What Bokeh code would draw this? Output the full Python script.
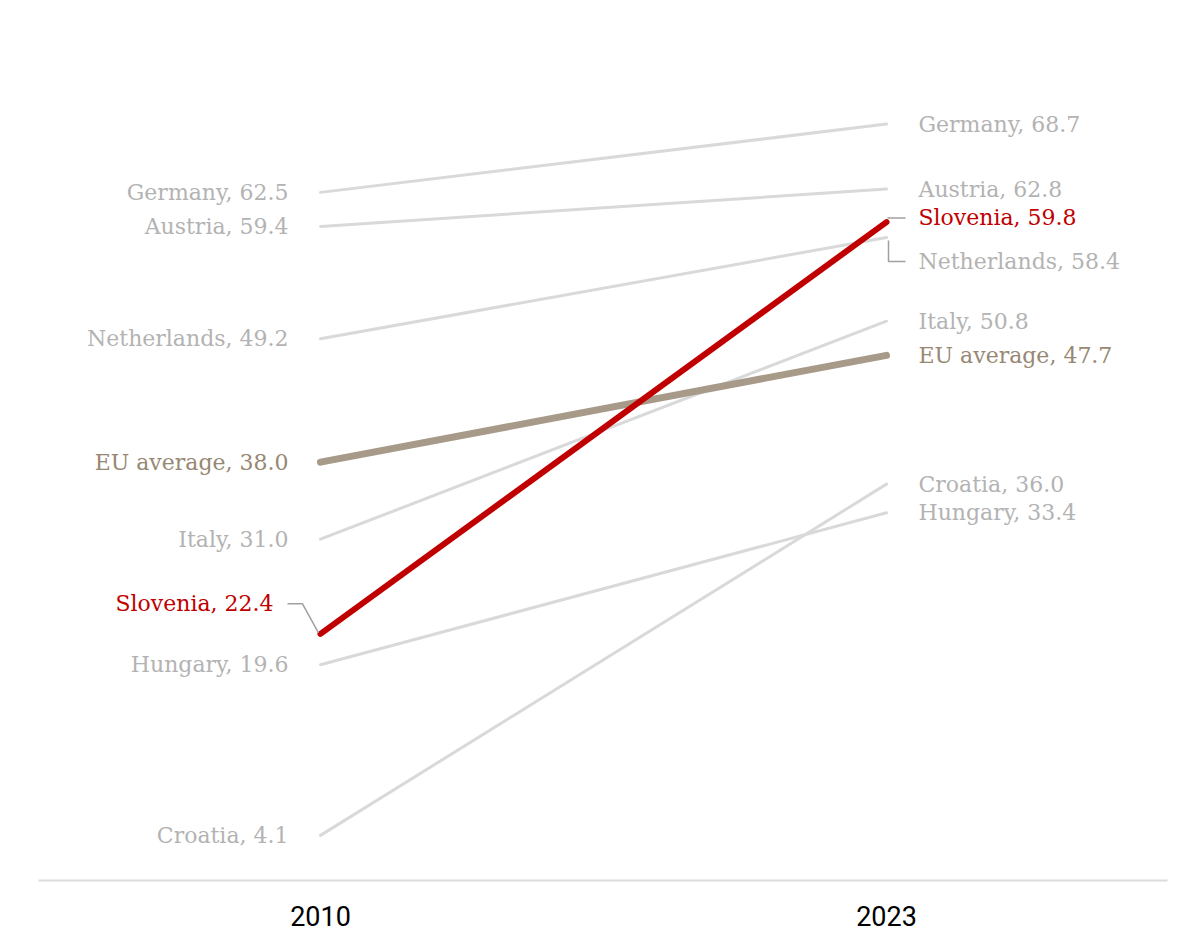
from bokeh.plotting import figure
from bokeh.models import ColumnDataSource, FixedTicker, Range1d
from bokeh.core.properties import value
from bokeh.embed import file_html
from bokeh.resources import INLINE

# data
years = [2010, 2023]
countries = ["Germany", "Austria", "Netherlands", "Italy", "Croatia", "Hungary"]
v2010 = [62.5, 59.4, 49.2, 31.0, 4.1, 19.6]
v2023 = [68.7, 62.8, 58.4, 50.8, 36.0, 33.4]
eu_name = "EU average"
eu_vals = [38.0, 47.7]
slo_name = "Slovenia"
slo_vals = [22.4, 59.8]

GREY_LINE = "#d9d9d9"
GREY_TEXT = "#b3b3b3"
EU_LINE = "#a79a89"
EU_TEXT = "#978874"
RED = "#c00000"
CONN = "#a0a0a0"
LABEL_FONT = value("DejaVu Serif")
LABEL_SIZE = "22px"

W, H = 1192, 943
BL, BR, BT, BB = 38, 25, 8, 63
frame_w = W - BL - BR
frame_h = H - BT - BB

# ranges chosen so 2010 sits at x=282 and 2023 at x=848 inside the frame
px_year = 566 / 13
x0 = 2010 - 282 / px_year
y_top = 79.2
px_unit = frame_h / y_top

p = figure(width=W, height=H, output_backend="svg", toolbar_location=None,
           x_range=Range1d(x0, x0 + frame_w / px_year), y_range=Range1d(0, y_top),
           min_border_left=BL, min_border_right=BR, min_border_top=BT, min_border_bottom=BB)
p.outline_line_color = None
p.grid.visible = False
p.yaxis.visible = False

ax = p.xaxis[0]
ax.ticker = FixedTicker(ticks=years)
ax.axis_line_color = "#dcdcdc"
ax.axis_line_width = 2
ax.major_tick_line_color = None
ax.minor_tick_line_color = None
ax.major_label_text_font = "Roboto"
ax.major_label_text_font_size = "27px"
ax.major_label_text_color = "#000000"
ax.major_label_standoff = 19

# grey country lines
for c, a, b in zip(countries, v2010, v2023):
    p.line(years, [a, b], line_color=GREY_LINE, line_width=3, line_cap="round")

p.line(years, eu_vals, line_color=EU_LINE, line_width=7, line_cap="round")
p.line(years, slo_vals, line_color=RED, line_width=6, line_cap="round")

# label offsets in pixels (positive = down)
left_off = {slo_name: -30}
left_dx = {slo_name: -47}
right_off = {slo_name: -5, "Netherlands": 24}

def lab(n, v):
    return f"{n}, {v:.1f}"

left = dict(x=[], y=[], t=[], c=[], dx=[])
right = dict(x=[], y=[], t=[], c=[])
for n, a, b, col in ([(c, a, b, GREY_TEXT) for c, a, b in zip(countries, v2010, v2023)]
                     + [(eu_name, eu_vals[0], eu_vals[1], EU_TEXT),
                        (slo_name, slo_vals[0], slo_vals[1], RED)]):
    left["x"].append(years[0]); left["y"].append(a - left_off.get(n, 0) / px_unit)
    left["t"].append(lab(n, a)); left["c"].append(col); left["dx"].append(left_dx.get(n, -32))
    right["x"].append(years[1]); right["y"].append(b - right_off.get(n, 0) / px_unit)
    right["t"].append(lab(n, b)); right["c"].append(col)

p.text(x="x", y="y", text="t", text_color="c", source=ColumnDataSource(left),
       text_align="right", text_baseline="middle", x_offset="dx",
       text_font=LABEL_FONT, text_font_size=LABEL_SIZE)
p.text(x="x", y="y", text="t", text_color="c", source=ColumnDataSource(right),
       text_align="left", text_baseline="middle", x_offset=32,
       text_font=LABEL_FONT, text_font_size=LABEL_SIZE)

# leader lines for shifted labels
def px(xyear, dx):
    return xyear + dx / px_year

def py(v, dy):
    return v - dy / px_unit

s0 = slo_vals[0]
p.line([px(2010, -33), px(2010, -18), px(2010, -2)],
       [py(s0, -30), py(s0, -30), py(s0, -1)], line_color=CONN, line_width=1.5)
s1 = slo_vals[1]
p.line([px(2023, 1), px(2023, 19)], [py(s1, -4), py(s1, -4)], line_color=CONN, line_width=1.5)
nl = v2023[countries.index("Netherlands")]
p.line([px(2023, 2), px(2023, 2), px(2023, 19)], [py(nl, 3), py(nl, 24), py(nl, 24)],
       line_color=CONN, line_width=1.5)

open("out.html", "w").write(file_html(p, INLINE))
